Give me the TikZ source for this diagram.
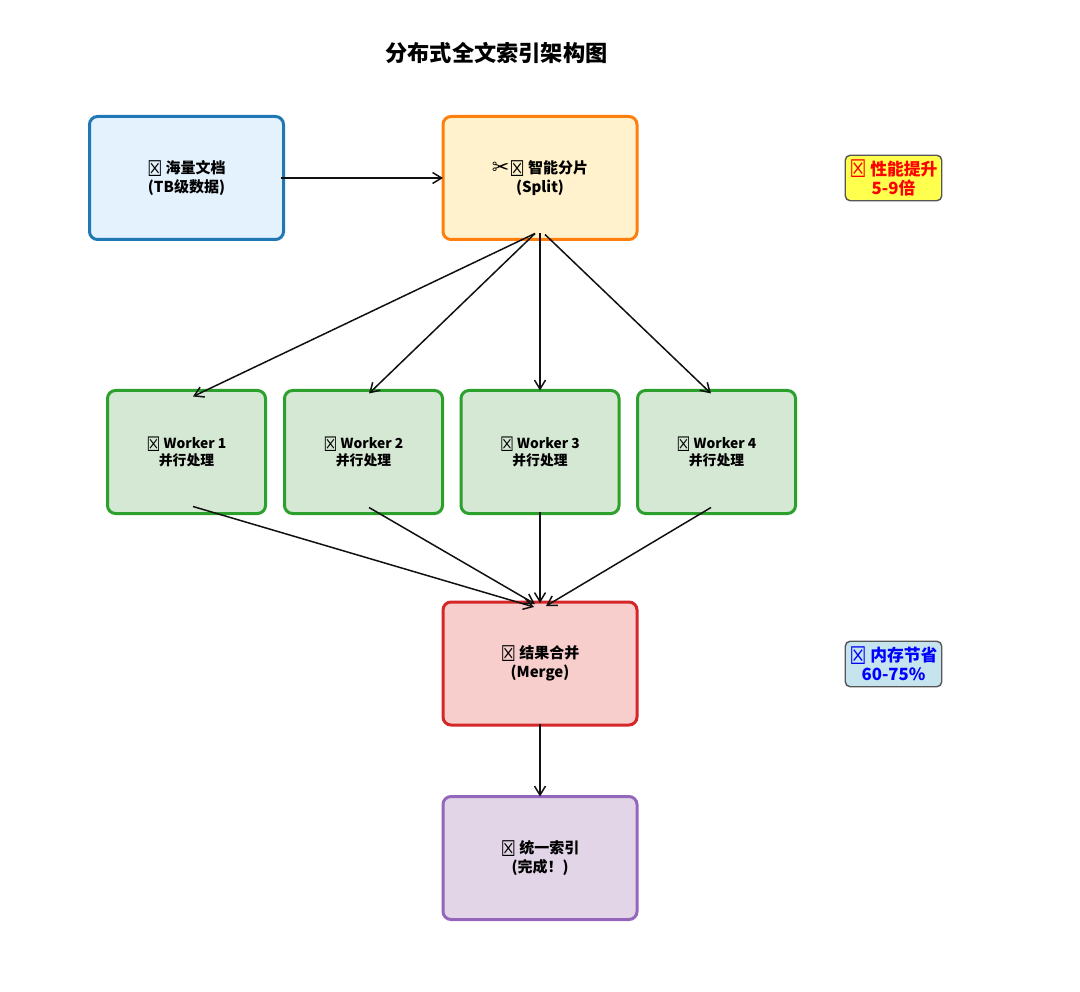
\documentclass[tikz,border=0pt]{standalone}
\usepackage{fontspec}
\setmainfont{Noto Sans CJK SC}
\newfontfamily\symfont{DejaVu Sans}
\usepackage{tikz}
\usetikzlibrary{positioning,arrows.meta}
\definecolor{docsline}{HTML}{1F77B4}
\definecolor{docsfill}{HTML}{E3F2FD}
\definecolor{splitline}{HTML}{FF7F0E}
\definecolor{splitfill}{HTML}{FFF2CC}
\definecolor{workerline}{HTML}{2CA02C}
\definecolor{workerfill}{HTML}{D5E8D4}
\definecolor{mergeline}{HTML}{D62728}
\definecolor{mergefill}{HTML}{F8CECC}
\definecolor{indexline}{HTML}{9467BD}
\definecolor{indexfill}{HTML}{E1D5E7}
\definecolor{badgeyellow}{HTML}{FFFF4D}
\definecolor{badgeblue}{HTML}{C5E4ED}
\definecolor{badgeline}{HTML}{555555}
\definecolor{flowline}{HTML}{111111}
\def\tofu{\raisebox{-0.16em}{\scalebox{1.12}[1.45]{\symfont\mdseries\char"2612}}}
\def\snip{\raisebox{-0.08em}{\scalebox{1.4}{\symfont\mdseries\char"2702}}}
\tikzset{
	stagebox/.style={draw, line width=3pt, rounded corners=8pt, align=center, inner sep=0pt, outer sep=0pt, minimum width=194pt, minimum height=123pt, font=\bfseries\fontsize{15}{19}\selectfont},
	workerbox/.style={stagebox, draw=workerline, fill=workerfill, minimum width=158pt, font=\bfseries\fontsize{13.8}{17}\selectfont},
	badgebox/.style={draw=badgeline, line width=1.4pt, rounded corners=5pt, align=center, inner sep=0pt, outer sep=0pt, minimum width=96.5pt, minimum height=45.5pt, font=\bfseries\fontsize{16.8}{19}\selectfont}
}

\begin{document}
\begin{tikzpicture}[>={Straight Barb[length=9pt,width=11pt]}, line width=1.5pt, draw=flowline]
	\useasboundingbox (0pt, 0pt) rectangle (1080pt, -992pt);
	\draw (496.5pt, -53pt)node[font=\bfseries\fontsize{22.2}{26}\selectfont](title){分布式全文索引架构图};
	\draw (186.5pt, -178pt)node[stagebox, draw=docsline, fill=docsfill](docs){\tofu{} 海量文档\\(TB级数据)};
	\draw (540pt, -178pt)node[stagebox, draw=splitline, fill=splitfill](split){\snip\tofu{} 智能分片\\(Split)};
	\draw (186.5pt, -452pt)node[workerbox](worker1){\tofu{} Worker 1\\并行处理};
	\draw (363.5pt, -452pt)node[workerbox](worker2){\tofu{} Worker 2\\并行处理};
	\draw (540pt, -452pt)node[workerbox](worker3){\tofu{} Worker 3\\并行处理};
	\draw (716.5pt, -452pt)node[workerbox](worker4){\tofu{} Worker 4\\并行处理};
	\draw (540pt, -663.5pt)node[stagebox, draw=mergeline, fill=mergefill](merge){\tofu{} 结果合并\\(Merge)};
	\draw (540pt, -858pt)node[stagebox, draw=indexline, fill=indexfill](index){\tofu{} 统一索引\\(完成！)};
	\draw (893.5pt, -178pt)node[badgebox, fill=badgeyellow, text=red](gain){\tofu{} 性能提升\\5-9倍};
	\draw (893.5pt, -664pt)node[badgebox, fill=badgeblue, text=blue](saving){\tofu{} 内存节省\\60-75\%};
	\path[->] ([xshift=-3pt]docs.east) edge (split.west);
	\path[->] ([shift={(-5pt,6pt)}]split.south) edge ([shift={(6.5pt,-6pt)}]worker1.north);
	\path[->] ([shift={(-5pt,6pt)}]split.south) edge ([shift={(5.5pt,-3pt)}]worker2.north);
	\path[->] ([yshift=6pt]split.south) edge (worker3.north);
	\path[->] ([shift={(5pt,5pt)}]split.south) edge ([shift={(-5.5pt,-3pt)}]worker4.north);
	\path[->] ([shift={(6.5pt,7pt)}]worker1.south) edge ([shift={(-6pt,-5pt)}]merge.north);
	\path[->] ([shift={(5.5pt,6pt)}]worker2.south) edge ([shift={(-5pt,-2pt)}]merge.north);
	\path[->] ([yshift=2pt]worker3.south) edge ([yshift=-1pt]merge.north);
	\path[->] ([shift={(-5.5pt,6pt)}]worker4.south) edge ([shift={(6pt,-4pt)}]merge.north);
	\path[->] ([yshift=1pt]merge.south) edge (index.north);
\end{tikzpicture}
\end{document}
